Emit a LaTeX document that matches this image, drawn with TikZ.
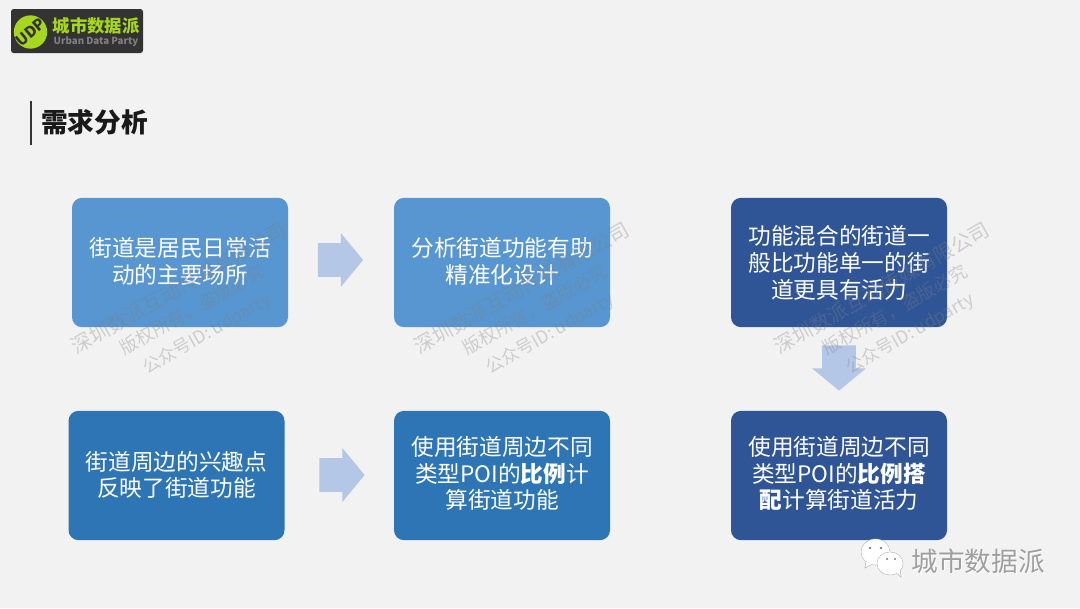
\documentclass[tikz,border=0pt]{standalone}
\usepackage{fontspec}
\setmainfont{Noto Sans CJK SC}
\usetikzlibrary{shapes.arrows}
\definecolor{bgc}{HTML}{F2F2F2}
\definecolor{boxa}{HTML}{5796D0}
\definecolor{boxb}{HTML}{2E75B6}
\definecolor{boxc}{HTML}{2F5597}
\definecolor{arrowc}{HTML}{B4C7E7}
\definecolor{limeg}{HTML}{A6D61E}
\definecolor{logod}{HTML}{333333}
\newcommand{\pxfont}[2]{\fontsize{#1}{#2}\selectfont}
\newcommand{\liftup}[2]{\raisebox{#1}[\height][\depth]{\begin{tabular}{@{}c@{}}#2\end{tabular}}}
\tikzset{
  infobox/.style={rounded corners=7.5pt,minimum width=162pt,minimum height=97pt,inner sep=0pt,
    text=white,align=center,font=\pxfont{17}{19.6}},
  tightbox/.style={infobox,font=\pxfont{17}{18.6}},
  blockarrow/.style={single arrow,fill=arrowc,inner xsep=0pt,inner ysep=12.4pt,outer sep=0pt,
    minimum height=34pt,minimum width=40pt,
    single arrow head extend=7.6pt,single arrow tip angle=101,anchor=center},
  wmark/.style={text=gray,opacity=0.32,rotate=29.5,inner sep=0pt},
}
\newcommand{\wmarks}[3]{%
  \node[wmark,font=\pxfont{15.2}{17}] (#1a) at (#2+179,#3+288) {深圳数派互动传媒有限公司};
  \node[wmark,font=\pxfont{13.5}{16}] (#1b) at (#2+192,#3+310) {版权所有，盗版必究};
  \node[wmark,font=\pxfont{13.2}{16}] (#1c) at (#2+207,#3+334) {公众号ID: udparty};
}
\begin{document}
\begin{tikzpicture}[x=0.75pt,y=-0.75pt]
\useasboundingbox (0,0) rectangle (1080,608);
\fill[bgc] (0,0) rectangle (1080,608);
% logo
\node[fill=logod,minimum width=99pt,minimum height=33pt,inner sep=0pt,rounded corners=2pt] (logo) at (77,31) {};
\node[circle,fill=limeg,minimum size=25pt,inner sep=0pt] (disc) at (30.5,32) {};
\node[text=logod,rotate=40,font=\bfseries\pxfont{11.5}{11},inner sep=0pt] (disctext) at (30.5,32) {UDP};
\node[text=limeg,font=\bfseries\pxfont{13}{14},inner sep=0pt] (logoname) at (96,26) {城市数据派};
\node[text=gray,font=\bfseries\pxfont{7.3}{8},inner sep=0pt] (logoen) at (96,41.5) {Urban Data Party};
% title
\draw[line width=1.6pt,color=logod] (31,101) -- (31,145);
\node[text=black!90,font=\bfseries\pxfont{20}{22},inner sep=0pt] (title) at (94.5,122) {需求分析};
% boxes
\node[infobox,fill=boxa] (b1) at (180,262.5) {\liftup{-1.7pt}{街道是居民日常活\\动的主要场所}};
\node[infobox,fill=boxa] (b2) at (502,262.5) {\liftup{-1.7pt}{分析街道功能有助\\精准化设计}};
\node[infobox,fill=boxc] (b3) at (839,262.5) {\liftup{-2.4pt}{功能混合的街道一\\般比功能单一的街\\道更具有活力}};
\node[tightbox,fill=boxb] (b4) at (176.5,475.5) {\liftup{-1.5pt}{街道周边的兴趣点\\反映了街道功能}};
\node[tightbox,fill=boxb] (b5) at (502,475.5) {\liftup{-0.7pt}{使用街道周边不同\\类型POI的\textbf{比例}计\\算街道功能}};
\node[tightbox,fill=boxc] (b6) at (839,475.5) {\liftup{-0.7pt}{使用街道周边不同\\类型POI的\textbf{比例搭}\\\textbf{配}计算街道活力}};
% block arrows
\node[blockarrow] (a1) at (333.5,260) {};
\node[blockarrow] (a2) at (335,475) {};
\node[blockarrow,rotate=270,minimum height=34pt] (a3) at (839,361) {};
% watermarks
\wmarks{wa}{0}{0}
\wmarks{wb}{343}{0}
\wmarks{wc}{703}{0}
% wechat
\path[fill=white,draw=gray!55,line width=0.4pt] (875.5,552) ellipse (14.5 and 13);
\path[fill=white,draw=gray!55,line width=0.4pt] (866,561) -- (865,568) -- (873,564) -- cycle;
\fill[white] (875.5,552) ellipse (14 and 12.5);
\path[fill=white,draw=gray!55,line width=0.4pt] (890,563.5) ellipse (13 and 11.5);
\path[fill=white,draw=gray!55,line width=0.4pt] (895,572) -- (901,577) -- (900,568) -- cycle;
\fill[white] (890,563.5) ellipse (12.5 and 11);
\fill[gray] (870,548) circle (1.3) (881,548) circle (1.3) (887,559) circle (1.2) (895,559) circle (1.2);
\node[text=white,font=\pxfont{20}{22},inner sep=0pt] (wxs) at (979,562) {城市数据派};
\node[text=gray!75,font=\pxfont{20}{22},inner sep=0pt] (wx) at (978,561) {城市数据派};
\end{tikzpicture}
\end{document}
